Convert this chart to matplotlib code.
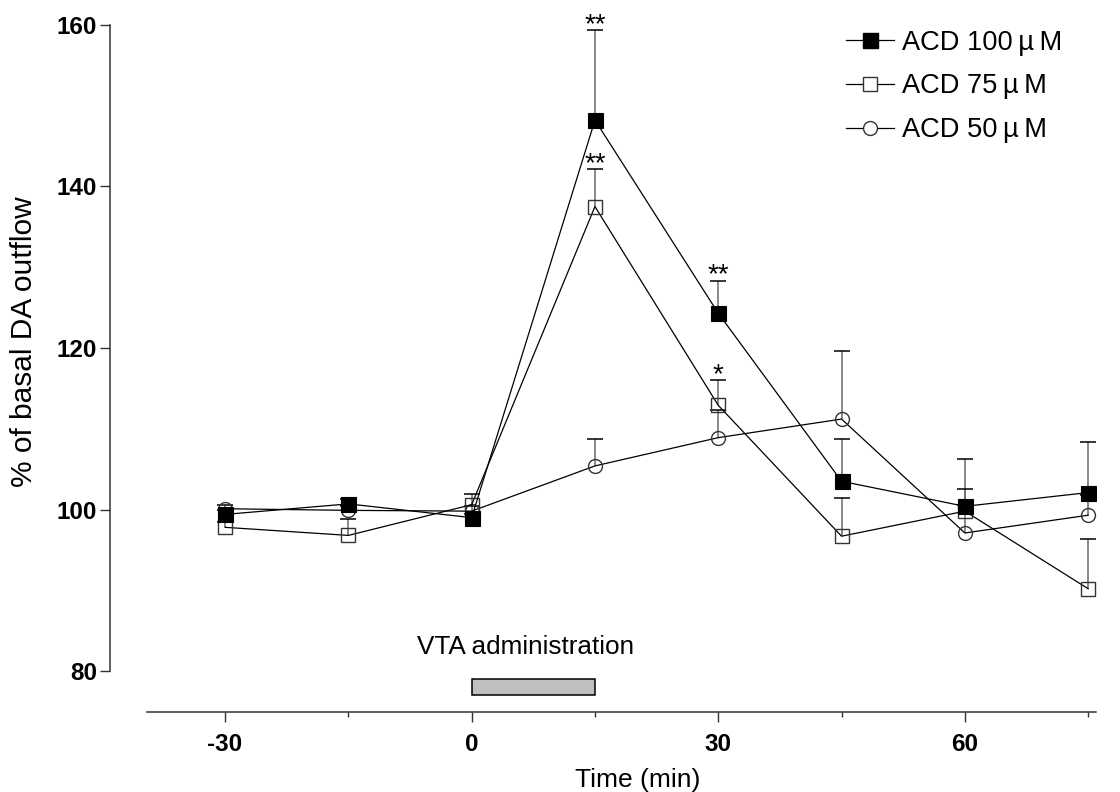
import numpy as np
import matplotlib
matplotlib.use("Agg")
import matplotlib.pyplot as plt
from matplotlib.lines import Line2D
from matplotlib.patches import Rectangle

plt.rcParams['font.family'] = ['Liberation Sans', 'DejaVu Sans']

# Sampling times (min) relative to VTA administration
time_min = [-30, -15, 0, 15, 30, 45, 60, 75]

# Mean % of basal DA outflow and SEM for each dose
acd100 = [99.4, 100.7, 99.0, 148.2, 124.3, 103.5, 100.4, 102.1]
sem100 = [0.6, 0.6, 0.5, 11.1, 4.0, 5.2, 2.1, 6.2]

acd75 = [97.8, 96.8, 100.6, 137.5, 112.9, 96.7, 99.8, 90.2]
sem75 = [0.6, 2.0, 1.3, 4.6, 3.1, 4.7, 0.8, 6.1]

acd50 = [100.1, 99.9, 99.8, 105.4, 108.9, 111.2, 97.1, 99.3]
sem50 = [0.5, 0.6, 0.7, 3.3, 3.4, 8.4, 9.2, 2.5]

series_labels = ['ACD 100\u2009\u00b5\u2009M', 'ACD 75\u2009\u00b5\u2009M', 'ACD 50\u2009\u00b5\u2009M']

# Significance marks: (time, series mean, series sem, text)
stars = [(15, 148.2, 11.1, '**'), (15, 137.5, 4.6, '**'),
         (30, 124.3, 4.0, '**'), (30, 112.9, 3.1, '*')]

y_ticks = [80, 100, 120, 140, 160]
x_major = [-30, 0, 30, 60]
x_minor = [-15, 15, 45, 75]

fig = plt.figure(figsize=(11.2, 7.92), dpi=100)
ax = fig.add_axes([0.0982, 0.1016, 0.8807, 0.8773])
ax.set_xlim(-44, 76)
ax.set_ylim(75, 161)

t = np.array(time_min)
axis_col = '#333333'

def upper_errorbars(y, e, z):
    y = np.array(y)
    e = np.array(e)
    ax.vlines(t, y, y + e, color='#6a6a6a', lw=1.1, zorder=z)
    ax.plot(t, y + e, ls='none', marker='_', ms=11, mew=1.1, color='black', zorder=z)

upper_errorbars(acd50, sem50, 2)
upper_errorbars(acd75, sem75, 2)
upper_errorbars(acd100, sem100, 2)

ax.plot(t, acd50, color='black', lw=0.9, marker='o', ms=10, mfc='none',
        mec='#333333', mew=1.0, zorder=3)
ax.plot(t, acd75, color='black', lw=0.9, marker='s', ms=10, mfc='none',
        mec='#333333', mew=1.0, zorder=4)
ax.plot(t, acd100, color='black', lw=0.9, marker='s', ms=10.8, mfc='black',
        mec='black', mew=0.8, zorder=5)

for x, m, e, s in stars:
    ax.annotate(s, xy=(x, m + e), xytext=(0, -1.2), textcoords='offset points',
                ha='center', va='baseline', fontsize=20)

# VTA administration bar
ax.add_patch(Rectangle((0, 77), 15, 2, facecolor='#c0c0c0', edgecolor='black',
                       lw=1.1, zorder=2))
ax.text(6.6, 82.1, 'VTA administration', ha='center', va='baseline', fontsize=18.8)

# Axes styling
for side in ['top', 'right']:
    ax.spines[side].set_visible(False)
ax.spines['left'].set_bounds(80, 160)
ax.spines['bottom'].set_bounds(-39.5, 76)
for side in ['left', 'bottom']:
    ax.spines[side].set_color(axis_col)
    ax.spines[side].set_linewidth(1.1)

ax.set_yticks(y_ticks)
ax.set_yticklabels([str(v) for v in y_ticks], fontsize=17.5, fontweight='bold')
ax.set_xticks(x_major)
ax.set_xticklabels([str(v) for v in x_major], fontsize=17.5, fontweight='bold')
ax.set_xticks(x_minor, minor=True)
ax.tick_params(axis='y', direction='out', length=7.2, width=1.0, color=axis_col, pad=2)
ax.tick_params(axis='x', which='major', direction='out', length=7.2, width=1.0,
               color=axis_col, pad=8)
ax.tick_params(axis='x', which='minor', direction='out', length=3.8, width=1.0,
               color=axis_col)

fig.text(24 / 1120, 1 - 342 / 792, '% of basal DA outflow', rotation=90,
         ha='center', va='center', fontsize=21.5)
fig.text(638 / 1120, 5 / 792, 'Time (min)', ha='center', va='baseline', fontsize=19)

# Legend
handles = [
    Line2D([], [], color='black', lw=0.9, marker='s', ms=10.8, mfc='black', mec='black'),
    Line2D([], [], color='black', lw=0.9, marker='s', ms=10, mfc='white', mec='#333333'),
    Line2D([], [], color='black', lw=0.9, marker='o', ms=10, mfc='white', mec='#333333'),
]
ax.legend(handles, series_labels, loc='upper left',
          bbox_to_anchor=(846 / 1120, 1 - 29.5 / 792),
          bbox_transform=fig.transFigure, frameon=False, fontsize=19.6,
          handlelength=1.78, handletextpad=0.27, labelspacing=0.66,
          borderpad=0, borderaxespad=0)

fig.savefig('out.png', dpi=100)
